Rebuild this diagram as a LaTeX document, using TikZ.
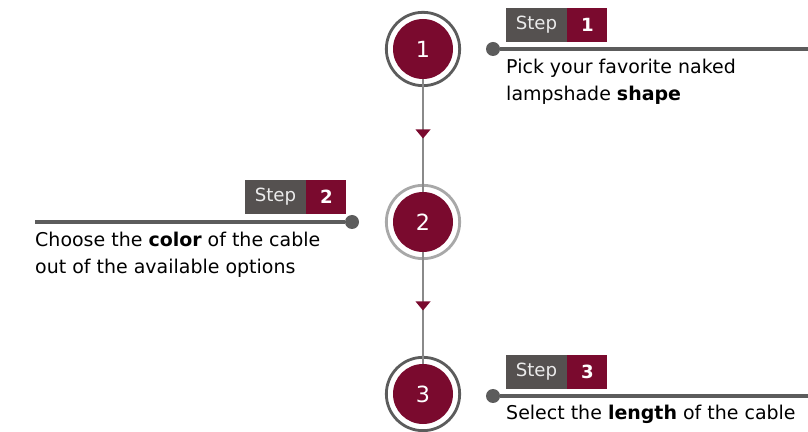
\documentclass[tikz,border=0pt]{standalone}
\usepackage{fontspec}
\setmainfont{DejaVu Sans}
\usepackage{tikz}
\usetikzlibrary{arrows.meta, positioning}
\usetikzlibrary{calc}

\definecolor{stepred}{HTML}{7A0A2E}
\definecolor{tagdark}{HTML}{555150}
\definecolor{spinegray}{HTML}{8A8A8A}
\definecolor{ringdark}{HTML}{5C5C5C}
\definecolor{ringlight}{HTML}{A8A8A8}

\tikzset{
  ring/.style={circle, line width=2.4pt, minimum size=2.2cm, inner sep=0pt},
  numdisc/.style={circle, fill=stepred, text=white, minimum size=1.8cm, inner sep=0pt,
    font=\fontsize{19}{24}\selectfont},
  spine/.style={spinegray, line width=2pt},
  leader/.style={ringdark, line width=3.2pt},
  pin/.style={circle, fill=ringdark, minimum size=0.42cm, inner sep=0pt},
  steptag/.style={fill=tagdark, text=white!92!black, minimum width=1.83cm, minimum height=1.0cm,
    inner sep=0pt, font=\fontsize{15.5}{18}\selectfont},
  stepnum/.style={fill=stepred, text=white, minimum width=1.2cm, minimum height=1.0cm,
    inner sep=0pt, font=\fontsize{15.5}{18}\selectfont\bfseries},
  desc/.style={inner sep=0pt, align=left, font=\fontsize{16.2}{22.5}\selectfont}
}

\begin{document}
\begin{tikzpicture}[x=0.03cm, y=-0.03cm]
  \useasboundingbox (0,0) rectangle (808,432);

  % circles
  \node[ring, draw=ringdark] (r1) at (423,49) {};
  \node[ring, draw=ringlight] (r2) at (423,222) {};
  \node[ring, draw=ringdark] (r3) at (423,394) {};
  \node[numdisc] (c1) at (423,49) {1};
  \node[numdisc] (c2) at (423,222) {2};
  \node[numdisc] (c3) at (423,394) {3};

  \draw[spine] (c1.south) -- (c2.north);
  \draw[spine] (c2.south) -- (c3.north);

  % arrow heads
  \coordinate (m1) at (423,134);
  \coordinate (m2) at (423,306);
  \fill[stepred] ($(m1)+(-7.5,-4.5)$) -- ++(15,0) -- ++(-7.5,9) -- cycle;
  \fill[stepred] ($(m2)+(-7.5,-4.5)$) -- ++(15,0) -- ++(-7.5,9) -- cycle;

  % step 1
  \node[pin] (p1) at (493,49) {};
  \coordinate (e1) at (808,49);
  \draw[leader] (p1) -- (e1);
  \node[steptag] (s1) at (536.5,25) {Step};
  \node[stepnum, right=0pt of s1] (n1) {1};
  \node[desc, anchor=north west] (t1) at (506,59) {Pick your favorite naked\\lampshade \textbf{shape}};

  % step 2
  \node[pin] (p2) at (352,222) {};
  \coordinate (e2) at (35,222);
  \draw[leader] (p2) -- (e2);
  \node[steptag] (s2) at (275.5,197) {Step};
  \node[stepnum, right=0pt of s2] (n2) {2};
  \node[desc, anchor=north west] (t2) at (35,232) {Choose the \textbf{color} of the cable\\out of the available options};

  % step 3
  \node[pin] (p3) at (493,396) {};
  \coordinate (e3) at (808,396);
  \draw[leader] (p3) -- (e3);
  \node[steptag] (s3) at (536.5,372) {Step};
  \node[stepnum, right=0pt of s3] (n3) {3};
  \node[desc, anchor=north west] (t3) at (506,405) {Select the \textbf{length} of the cable};
\end{tikzpicture}
\end{document}
